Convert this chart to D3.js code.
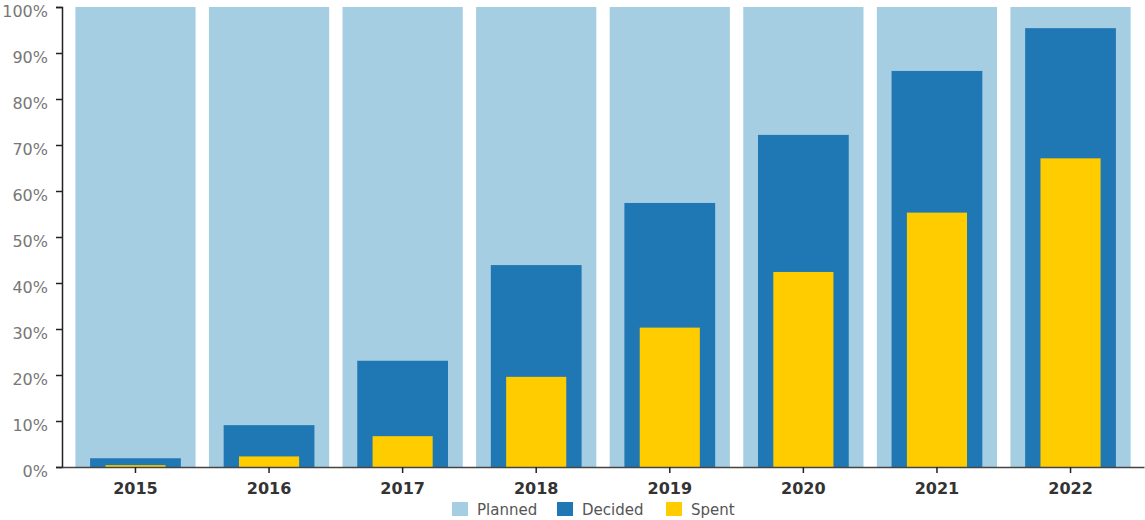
<!DOCTYPE html>
<html>
<head>
<meta charset="utf-8">
<script src="https://cdn.jsdelivr.net/npm/d3@7"></script>
<style>
  html, body { margin: 0; padding: 0; background: #fff; }
  svg { display: block; font-family: "DejaVu Sans", Verdana, sans-serif; }
</style>
</head>
<body>
<svg id="chart" width="1145" height="520"></svg>
<script>
const years = ["2015", "2016", "2017", "2018", "2019", "2020", "2021", "2022"];
const planned = [100, 100, 100, 100, 100, 100, 100, 100];
const decided = [1.9, 9.1, 23.1, 43.9, 57.4, 72.2, 86.1, 95.4];
const spent = [0.4, 2.3, 6.7, 19.6, 30.3, 42.4, 55.3, 67.1];
const yTicks = [0, 10, 20, 30, 40, 50, 60, 70, 80, 90, 100];
const seriesNames = ["Planned", "Decided", "Spent"];
const seriesColors = ["#a6cee3", "#1f78b4", "#ffcc00"];

const svg = d3.select("#chart");
const margin = { left: 62, right: 1, top: 7, bottom: 53 };
const W = 1145, H = 520;

const x = d3.scaleBand().domain(years)
  .range([margin.left, W - margin.right])
  .paddingInner(0.1).paddingOuter(0.1);
const y = d3.scaleLinear().domain([0, 100]).range([H - margin.bottom, margin.top]);

const bw = x.bandwidth();
const layers = [
  { name: "Planned", values: planned, frac: 1.0, color: seriesColors[0] },
  { name: "Decided", values: decided, frac: 0.755, color: seriesColors[1] },
  { name: "Spent", values: spent, frac: 0.5, color: seriesColors[2] }
];

layers.forEach(l => {
  svg.append("g").selectAll("rect")
    .data(years.map((yr, i) => ({ yr, v: l.values[i] })))
    .join("rect")
    .attr("x", d => x(d.yr) + (bw - bw * l.frac) / 2)
    .attr("width", bw * l.frac)
    .attr("y", d => y(d.v))
    .attr("height", d => y(0) - y(d.v))
    .attr("fill", l.color);
});

// Y axis
const yAxis = svg.append("g")
  .attr("transform", `translate(${margin.left},0)`)
  .call(d3.axisLeft(y).tickValues(yTicks).tickFormat(d => d + "%").tickSize(6).tickPadding(8));
yAxis.selectAll("path, line").attr("stroke", "#222").attr("stroke-width", 1.5);
yAxis.selectAll("text").attr("fill", "#777").attr("y", 4).style("font-size", "16px")
  .style("font-family", '"DejaVu Sans", Verdana, sans-serif');

// X axis
const xAxis = svg.append("g")
  .attr("transform", `translate(0,${y(0)})`)
  .call(d3.axisBottom(x).tickSize(6).tickSizeOuter(0).tickPadding(10));
xAxis.selectAll("path, line").attr("stroke", "#222").attr("stroke-width", 1.5);
xAxis.select(".domain").attr("stroke", "#444");
xAxis.selectAll("text").attr("fill", "#333").style("font-size", "16px")
  .style("font-weight", "bold")
  .style("font-family", '"DejaVu Sans", Verdana, sans-serif');

// Legend
const legendItems = [
  { name: seriesNames[0], color: seriesColors[0], x: 452 },
  { name: seriesNames[1], color: seriesColors[1], x: 557 },
  { name: seriesNames[2], color: seriesColors[2], x: 666 }
];
const lg = svg.append("g");
legendItems.forEach(it => {
  lg.append("rect").attr("x", it.x).attr("y", 502).attr("width", 16).attr("height", 14).attr("fill", it.color);
  lg.append("text").attr("x", it.x + 25).attr("y", 514.5)
    .attr("fill", "#555").style("font-size", "15px").text(it.name);
});
</script>
</body>
</html>
